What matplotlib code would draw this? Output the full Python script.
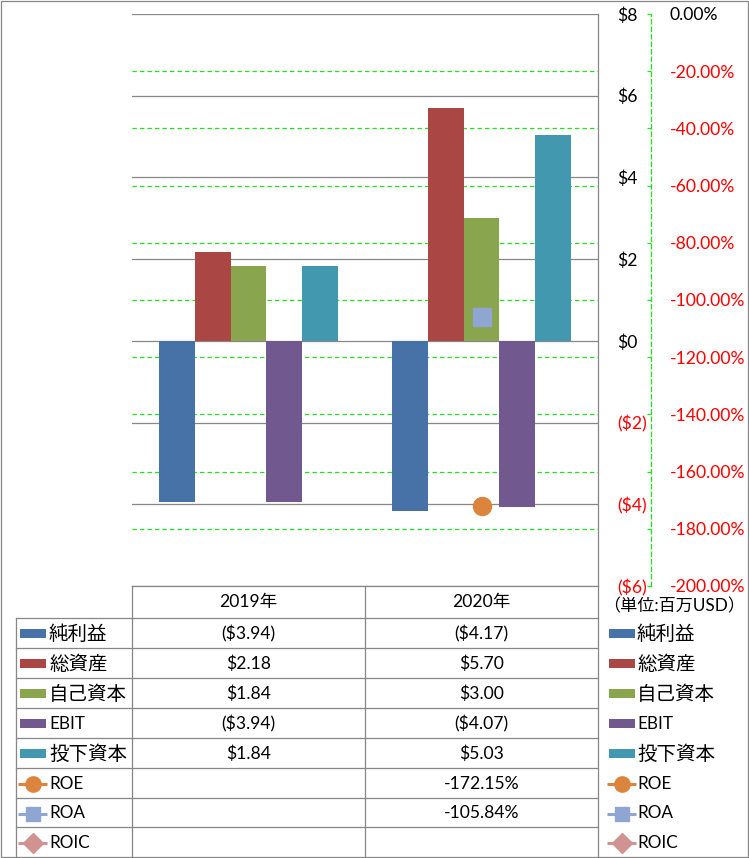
import matplotlib
matplotlib.use('Agg')
import matplotlib.pyplot as plt
import numpy as np
from matplotlib.patches import Rectangle

plt.rcParams['font.family'] = ['Lato', 'Noto Sans CJK JP', 'DejaVu Sans']

# ---------------- data ----------------
years = ['2019年', '2020年']
bar_names = ['純利益', '総資産', '自己資本', 'EBIT', '投下資本']
net_income = [-3.94, -4.17]
total_assets = [2.18, 5.70]
equity = [1.84, 3.00]
ebit = [-3.94, -4.07]
invested_capital = [1.84, 5.03]
line_names = ['ROE', 'ROA', 'ROIC']
roe = [np.nan, -172.15]
roa = [np.nan, -105.84]
roic = [np.nan, np.nan]
primary_ticks = [-6, -4, -2, 0, 2, 4, 6, 8]
secondary_ticks = [-200, -180, -160, -140, -120, -100, -80, -60, -40, -20, 0]
unit_label = '（単位:百万USD）'

bar_series = [net_income, total_assets, equity, ebit, invested_capital]
line_series = [roe, roa, roic]
bar_colors = ['#4672A8', '#AA4643', '#89A54E', '#71588F', '#4198AF']
line_colors = ['#DB843D', '#8FA6D3', '#D19392']
line_markers = ['o', 's', 'D']
GRAY = '#878787'
GREEN = '#22E022'
RED = '#FF0000'
FS = 12.6

W, H = 749, 858
fig = plt.figure(figsize=(W / 100, H / 100), dpi=100)

# plot area in pixels
L, R, T, B = 132, 598, 14, 586
rect = [L / W, 1 - B / H, (R - L) / W, (B - T) / H]

# secondary axis (behind): green dashed gridlines and axis
ax2 = fig.add_axes(rect)
ax2.set_zorder(0)
ax2.set_xlim(-0.5, 1.5)
ax2.set_ylim(-200, 0)
for v in secondary_ticks[1:-1]:
    ax2.axhline(v, color=GREEN, lw=0.9, ls=(0, (3.5, 2.5)), zorder=0)
for s in ['left', 'top', 'bottom']:
    ax2.spines[s].set_visible(False)
ax2.spines['right'].set_position(('outward', 53 * 0.72))
ax2.spines['right'].set_color(GREEN)
ax2.spines['right'].set_linestyle((0, (3.5, 2.5)))
ax2.spines['right'].set_linewidth(0.9)
ax2.yaxis.tick_right()
ax2.set_xticks([])
ax2.set_yticks(secondary_ticks,
               labels=[f'{v:.2f}%' if v != 0 else '0.00%' for v in secondary_ticks])
ax2.tick_params(axis='y', direction='in', length=3, width=0.9, color=GREEN,
                pad=13.5, labelsize=FS)
for v, lab in zip(secondary_ticks, ax2.get_yticklabels()):
    lab.set_color('black' if v == 0 else RED)

# primary axis with bars
ax = fig.add_axes(rect)
ax.set_zorder(1)
ax.patch.set_visible(False)
ax.set_xlim(-0.5, 1.5)
ax.set_ylim(-6, 8)
x = np.arange(len(years))
width = 1 / 6.5
for i, (vals, c) in enumerate(zip(bar_series, bar_colors)):
    ax.bar(x + (i - 2) * width, vals, width, color=c, zorder=2, label=bar_names[i])
ax.yaxis.grid(True, color=GRAY, lw=0.9)
ax.set_axisbelow(True)
for s in ['left', 'top', 'bottom']:
    ax.spines[s].set_visible(False)
ax.spines['right'].set_color(GRAY)
ax.spines['right'].set_linewidth(0.9)
ax.yaxis.tick_right()
ax.set_xticks([])


def money(v, dec=0):
    s = f'${abs(v):.{dec}f}'
    return f'({s})' if v < 0 else s


ax.set_yticks(primary_ticks, labels=[money(v) for v in primary_ticks])
ax.tick_params(axis='y', length=0, pad=13.5, labelsize=FS)
for v, lab in zip(primary_ticks, ax.get_yticklabels()):
    lab.set_color(RED if v < 0 else 'black')

# markers on top (secondary scale)
ax3 = fig.add_axes(rect)
ax3.set_zorder(2)
ax3.set_xlim(-0.5, 1.5)
ax3.set_ylim(-200, 0)
ax3.axis('off')
marker_sizes = [13, 13, 12]
for vals, c, m, ms in zip(line_series, line_colors, line_markers, marker_sizes):
    ax3.plot(x, vals, color=c, marker=m, ms=ms, mec=c, lw=2.2)

# overlay for data table and right legend (pixel coordinates)
ov = fig.add_axes([0, 0, 1, 1])
ov.set_zorder(3)
ov.set_xlim(0, W)
ov.set_ylim(H, 0)
ov.axis('off')

lw = 0.9
ov.add_patch(Rectangle((0.5, 0.5), W - 1.5, H - 1.5, fill=False, ec=GRAY, lw=lw))
row_edges = [586, 618, 648, 678, 708, 738, 768, 798, 827, 857]
ov.plot([L, R], [row_edges[0], row_edges[0]], color=GRAY, lw=lw)
for y in row_edges[1:-1]:
    ov.plot([16, R], [y, y], color=GRAY, lw=lw)
for xv in [L, 365, R]:
    ov.plot([xv, xv], [586, 857], color=GRAY, lw=lw)
ov.plot([16, 16], [618, 857], color=GRAY, lw=lw)

col_centers = [248.5, 481.5]
hdr_y = (row_edges[0] + row_edges[1]) / 2
for cx, yr in zip(col_centers, years):
    ov.text(cx, hdr_y, yr, ha='center', va='center', fontsize=FS)

row_centers = [(row_edges[i] + row_edges[i + 1]) / 2 + 1 for i in range(1, 9)]

names = bar_names + line_names
cells = [[money(v, 2) for v in s] for s in bar_series] + \
        [['' if np.isnan(v) else f'{v:.2f}%' for v in s] for s in line_series]

for k, (name, rowvals) in enumerate(zip(names, cells)):
    yc = row_centers[k]
    for cx, txt in zip(col_centers, rowvals):
        if txt:
            ov.text(cx, yc, txt, ha='center', va='center', fontsize=FS)
    for kx, tx in [(20, 49), (609, 637)]:
        if k < len(bar_names):
            ov.add_patch(Rectangle((kx, yc - 5), 26, 9, color=bar_colors[k], lw=0))
        else:
            j = k - len(bar_names)
            ov.plot([kx - 2, kx + 27], [yc, yc], color=line_colors[j], lw=2.2,
                    solid_capstyle='butt')
            ov.plot([kx + 12.5], [yc], marker=line_markers[j], ms=[11, 10, 10][j],
                    color=line_colors[j], mec=line_colors[j])
        fs = 14 if k < len(bar_names) and name != 'EBIT' else 12.3
        ov.text(tx, yc, name, ha='left', va='center', fontsize=fs)

ov.text(674, 606, unit_label, ha='center', va='center', fontsize=12.3)

fig.savefig('out.png', dpi=100)
